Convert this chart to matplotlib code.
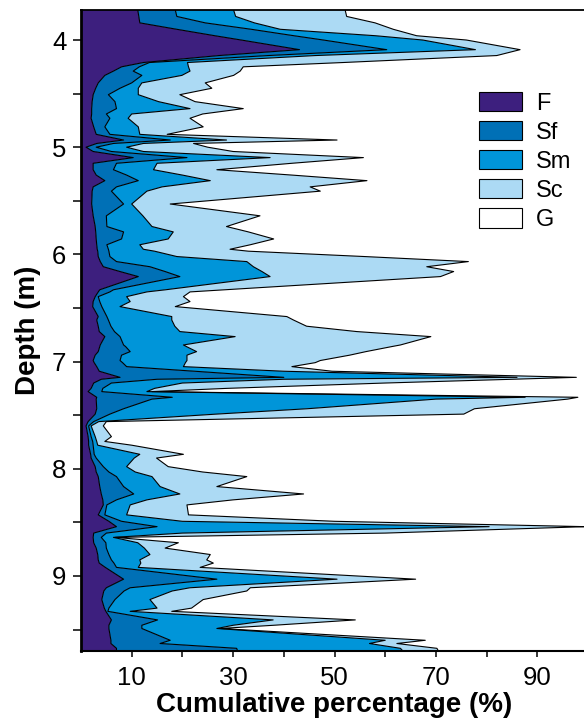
import matplotlib
matplotlib.use("Agg")
import matplotlib.pyplot as plt
from matplotlib.patches import Patch
from matplotlib.ticker import MultipleLocator, FixedLocator

plt.rcParams['font.family'] = ['Liberation Sans', 'DejaVu Sans']

# Depth of each sample (m)
depth = [3.72, 3.78, 3.84, 3.90, 3.96, 4.00, 4.09, 4.145, 4.21, 4.25,
         4.29, 4.33, 4.40, 4.45, 4.51, 4.575, 4.64, 4.69, 4.73, 4.81,
         4.88, 4.933, 4.965, 5.00, 5.04, 5.097, 5.15, 5.21, 5.26, 5.312,
         5.37, 5.41, 5.53, 5.64, 5.74, 5.79, 5.856, 5.91, 5.952, 5.97,
         6.02, 6.067, 6.115, 6.16, 6.207, 6.33, 6.35, 6.394, 6.44, 6.487,
         6.58, 6.612, 6.67, 6.72, 6.767, 6.845, 6.86, 6.907, 6.94, 6.99,
         7.01, 7.047, 7.09, 7.147, 7.165, 7.20, 7.25, 7.28, 7.333, 7.35,
         7.44, 7.49, 7.56, 7.60, 7.70, 7.745, 7.78, 7.865, 7.90, 7.98,
         8.03, 8.073, 8.166, 8.235, 8.29, 8.337, 8.43, 8.49, 8.54, 8.60,
         8.64, 8.69, 8.74, 8.80, 8.85, 8.88, 8.92, 9.03, 9.11, 9.14,
         9.22, 9.30, 9.33, 9.41, 9.46, 9.49, 9.60, 9.63, 9.675, 9.70]

# Cumulative percentage at the right edge of each class (%)
cum_F = [11.2, 11.4, 11.6, 18.9, 26.4, 31.6, 43.1, 27.2, 12.3, 8.0,
         6.4, 4.7, 3.4, 2.9, 2.4, 2.2, 2.1, 2.1, 2.0, 2.5,
         3.0, 8.4, 3.1, 1.0, 2.4, 10.3, 2.4, 2.4, 3.0, 4.7,
         2.4, 2.2, 2.1, 2.4, 2.8, 2.9, 3.0, 3.1, 3.2, 3.3,
         3.4, 3.8, 4.4, 7.7, 11.3, 3.7, 3.4, 2.8, 2.4, 2.3,
         3.4, 3.1, 3.4, 3.6, 4.7, 3.8, 3.7, 3.4, 2.8, 2.4,
         2.6, 3.1, 3.6, 7.7, 4.0, 2.5, 2.0, 1.4, 3.1, 3.0,
         3.1, 2.8, 1.4, 1.0, 1.4, 1.5, 1.5, 1.9, 2.0, 2.8,
         3.0, 3.4, 3.7, 4.0, 4.3, 4.4, 3.4, 5.5, 7.0, 2.5,
         2.4, 2.5, 3.0, 3.3, 3.4, 3.6, 4.8, 8.4, 5.0, 4.5,
         4.1, 4.6, 4.9, 6.0, 5.5, 5.5, 5.9, 5.9, 7.0, 7.0]
cum_Sf = [18.6, 18.9, 24.5, 33.6, 42.0, 47.8, 60.3, 36.9, 13.5, 11.5,
          10.3, 12.0, 10.0, 7.7, 5.4, 6.7, 7.0, 5.0, 5.7, 4.7,
          5.7, 17.6, 6.4, 3.0, 6.0, 20.9, 7.0, 6.4, 9.0, 11.3,
          7.0, 6.0, 8.4, 5.0, 5.1, 8.4, 8.0, 5.1, 5.4, 5.5,
          5.7, 7.0, 13.6, 16.6, 19.5, 6.4, 5.7, 3.4, 3.7, 4.1,
          5.1, 5.4, 5.9, 6.6, 7.7, 8.4, 8.8, 9.7, 8.0, 7.7,
          8.2, 9.0, 22.4, 40.0, 15.0, 6.0, 4.3, 4.1, 18.0, 14.0,
          8.4, 5.7, 2.5, 1.5, 2.0, 2.3, 2.4, 2.6, 3.0, 4.4,
          5.5, 7.0, 8.4, 10.4, 7.0, 5.1, 4.7, 8.0, 15.0, 5.0,
          4.0, 4.9, 5.0, 5.5, 6.0, 6.5, 7.0, 26.8, 9.7, 8.5,
          6.7, 5.5, 5.3, 15.1, 12.0, 12.0, 17.6, 15.6, 30.7, 30.9]
cum_Sm = [30.1, 30.5, 34.2, 39.3, 58.1, 67.4, 77.8, 46.2, 21.0, 21.2,
          21.5, 19.9, 12.0, 11.3, 11.3, 15.3, 21.5, 10.0, 9.3, 11.3,
          11.6, 28.7, 12.3, 9.0, 12.3, 37.3, 15.0, 14.3, 20.0, 25.5,
          16.0, 13.0, 10.0, 12.2, 14.0, 18.2, 17.2, 11.6, 12.3, 14.5,
          18.9, 32.7, 34.0, 35.7, 37.3, 16.7, 13.0, 9.0, 9.7, 7.7,
          17.9, 17.9, 18.5, 19.5, 30.4, 20.2, 20.8, 22.8, 20.9, 20.9,
          20.6, 20.2, 40.0, 86.0, 40.0, 20.0, 14.5, 13.0, 87.6, 70.0,
          44.6, 26.7, 3.5, 2.0, 2.8, 3.1, 3.3, 11.6, 10.5, 9.0,
          10.7, 14.0, 15.6, 19.5, 13.0, 9.7, 9.0, 20.0, 80.5, 20.0,
          6.4, 11.2, 12.5, 13.6, 11.6, 11.8, 11.3, 50.5, 21.5, 18.0,
          13.6, 15.0, 9.7, 37.9, 30.0, 26.8, 60.0, 56.9, 63.0, 63.5]
cum_Sc = [52.1, 52.4, 58.0, 61.6, 66.2, 76.0, 86.6, 82.0, 51.7, 32.0,
          31.4, 30.1, 24.5, 25.8, 19.5, 22.5, 32.0, 24.0, 21.5, 24.1,
          17.0, 50.5, 22.2, 25.0, 30.0, 55.7, 41.6, 26.8, 41.6, 56.4,
          45.2, 47.2, 17.6, 35.3, 28.7, 33.0, 38.0, 33.4, 29.4, 33.0,
          55.9, 76.4, 68.2, 73.5, 70.9, 28.4, 21.5, 20.2, 21.5, 18.6,
          40.6, 41.9, 44.5, 54.4, 69.0, 63.0, 61.3, 56.2, 53.0, 47.2,
          46.2, 41.6, 49.5, 97.7, 85.0, 60.0, 28.7, 14.0, 98.0, 96.0,
          77.6, 75.5, 5.0, 4.4, 6.0, 4.7, 10.0, 20.2, 14.9, 17.2,
          24.0, 32.7, 26.8, 43.9, 30.0, 20.9, 21.2, 50.0, 99.5, 60.0,
          6.8, 19.2, 16.6, 25.5, 24.8, 26.1, 23.5, 66.0, 33.4, 32.7,
          24.1, 21.8, 17.9, 54.1, 38.0, 27.5, 67.9, 62.3, 70.2, 70.5]
cum_G = [100.0] * len(depth)

classes = ['F', 'Sf', 'Sm', 'Sc', 'G']
colors = ['#3d1f7e', '#0070b6', '#0095d9', '#acdaf4', '#ffffff']

fig = plt.figure(figsize=(5.84, 7.26), dpi=100)
ax = fig.add_axes([81 / 584, 75 / 726, 507 / 584, 641 / 726])

bounds = [[0.0] * len(depth), cum_F, cum_Sf, cum_Sm, cum_Sc, cum_G]
for i in range(5):
    ax.fill_betweenx(depth, bounds[i], bounds[i + 1], facecolor=colors[i],
                     edgecolor='none', lw=0, zorder=1)
for b in bounds[1:5]:
    ax.plot(b, depth, color='black', lw=0.8, zorder=2)

ax.set_xlim(0, 100)
ax.set_ylim(9.70, 3.72)

ax.xaxis.set_major_locator(FixedLocator([10, 30, 50, 70, 90]))
ax.xaxis.set_minor_locator(FixedLocator([20, 40, 60, 80]))
ax.yaxis.set_major_locator(MultipleLocator(1))
ax.yaxis.set_minor_locator(MultipleLocator(0.5))
ax.tick_params(axis='both', which='both', direction='out', width=1.1,
               labelsize=18.5, color='black')
ax.tick_params(axis='x', which='both', length=4.5, pad=6)
ax.tick_params(axis='y', which='both', length=5.5, pad=5)

ax.spines['right'].set_visible(False)
ax.spines['left'].set_linewidth(2.0)
ax.spines['bottom'].set_linewidth(1.5)
ax.spines['top'].set_linewidth(1.3)

ax.set_xlabel('Cumulative percentage (%)', fontsize=20, fontweight='bold',
              labelpad=2)
ax.set_ylabel('Depth (m)', fontsize=20, fontweight='bold', labelpad=8)

handles = [Patch(facecolor=c, edgecolor='black', lw=0.8) for c in colors]
leg = ax.legend(handles, classes, loc='upper left',
                bbox_to_anchor=(479 / 584, 1 - 92 / 726),
                bbox_transform=fig.transFigure, frameon=False,
                fontsize=17, handlelength=1.8, handleheight=0.87,
                handletextpad=0.6, labelspacing=0.27, borderpad=0,
                borderaxespad=0)

fig.savefig('out.png', dpi=100)
